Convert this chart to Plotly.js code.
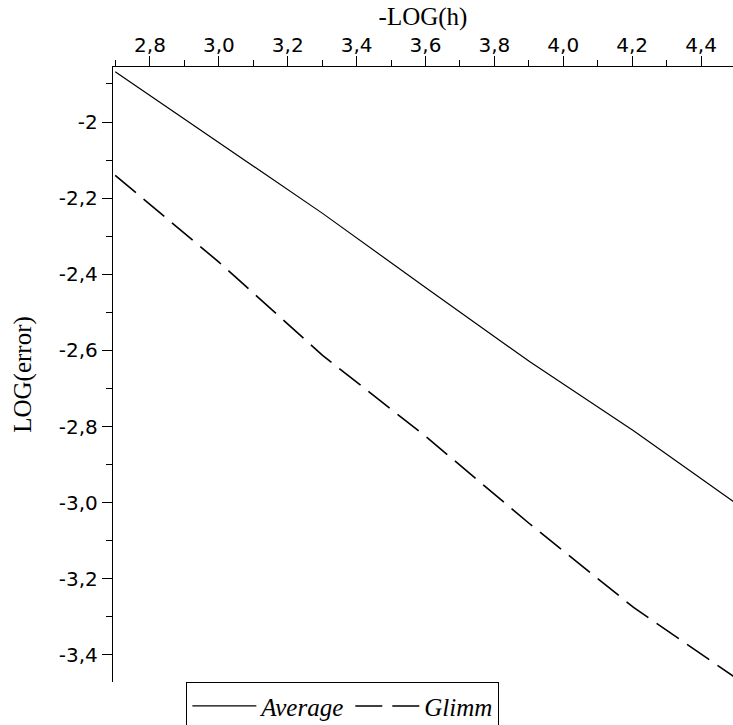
<!DOCTYPE html>
<html>
<head>
<meta charset="utf-8">
<script src="https://cdn.plot.ly/plotly-3.0.1.min.js"></script>
<style>html,body{margin:0;padding:0;background:#fff;}#chart{width:733px;height:725px;}</style>
</head>
<body>
<div id="chart"></div>
<script>
// -LOG(h) sample points
const negLogH = [2.699, 3.0, 3.301, 3.602, 3.903, 4.204, 4.505];
// LOG(error) for each scheme
const averageErr = [-1.868, -2.055, -2.240, -2.436, -2.630, -2.811, -3.004];
const glimmErr = [-2.140, -2.368, -2.613, -2.827, -3.056, -3.275, -3.463];

const xTickVals = [2.8, 3.0, 3.2, 3.4, 3.6, 3.8, 4.0, 4.2, 4.4];
const xTickText = ['2,8', '3,0', '3,2', '3,4', '3,6', '3,8', '4,0', '4,2', '4,4'];
const yTickVals = [-2, -2.2, -2.4, -2.6, -2.8, -3.0, -3.2, -3.4];
const yTickText = ['-2', '-2,2', '-2,4', '-2,6', '-2,8', '-3,0', '-3,2', '-3,4'];

const seriesNames = ['Average', 'Glimm'];

const traces = [
  {x: negLogH, y: averageErr, name: seriesNames[0], type: 'scatter', mode: 'lines',
   line: {color: '#000', width: 1.2}},
  {x: negLogH, y: glimmErr, name: seriesNames[1], type: 'scatter', mode: 'lines',
   line: {color: '#000', width: 1.6, dash: '27px,10px'}}
];

const tickFont = {family: 'DejaVu Sans', size: 20, color: '#000'};
const titleFont = {family: 'Liberation Serif', size: 25, color: '#000'};

const layout = {
  width: 733, height: 725,
  paper_bgcolor: '#fff', plot_bgcolor: '#fff',
  margin: {l: 113, r: 0, t: 67, b: 43, autoexpand: false},
  showlegend: true,
  xaxis: {
    side: 'top', range: [2.6926, 4.4928],
    tickmode: 'array', tickvals: xTickVals, ticktext: xTickText,
    ticks: 'outside', ticklen: 10, tickwidth: 1, tickcolor: '#000',
    ticklabelstandoff: -4,
    minor: {ticks: 'outside', dtick: 0.1, tick0: 2.8, ticklen: 6, tickwidth: 1, tickcolor: '#000', showgrid: false},
    showline: true, linecolor: '#000', linewidth: 1.2,
    showgrid: false, zeroline: false,
    tickfont: tickFont,
    title: {text: '-LOG(h)', font: titleFont, standoff: 0}
  },
  yaxis: {
    range: [-3.471, -1.8555],
    tickmode: 'array', tickvals: yTickVals, ticktext: yTickText,
    ticks: 'outside', ticklen: 10, tickwidth: 1, tickcolor: '#000',
    minor: {ticks: 'outside', dtick: 0.1, tick0: -2, ticklen: 6, tickwidth: 1, tickcolor: '#000', showgrid: false},
    showline: true, linecolor: '#000', linewidth: 1.2,
    showgrid: false, zeroline: false,
    tickfont: tickFont,
    title: {text: 'LOG(error)', font: titleFont, standoff: 20}
  },
  legend: {
    orientation: 'h', x: 0.118, xanchor: 'left', y: 0.0, yanchor: 'top',
    bordercolor: '#000', borderwidth: 1.2, bgcolor: '#fff',
    itemwidth: 64, valign: 'middle',
    font: {family: 'Liberation Serif', size: 25, style: 'italic', color: '#000'}
  }
};

Plotly.newPlot('chart', traces, layout, {displayModeBar: false, staticPlot: true});
</script>
</body>
</html>
